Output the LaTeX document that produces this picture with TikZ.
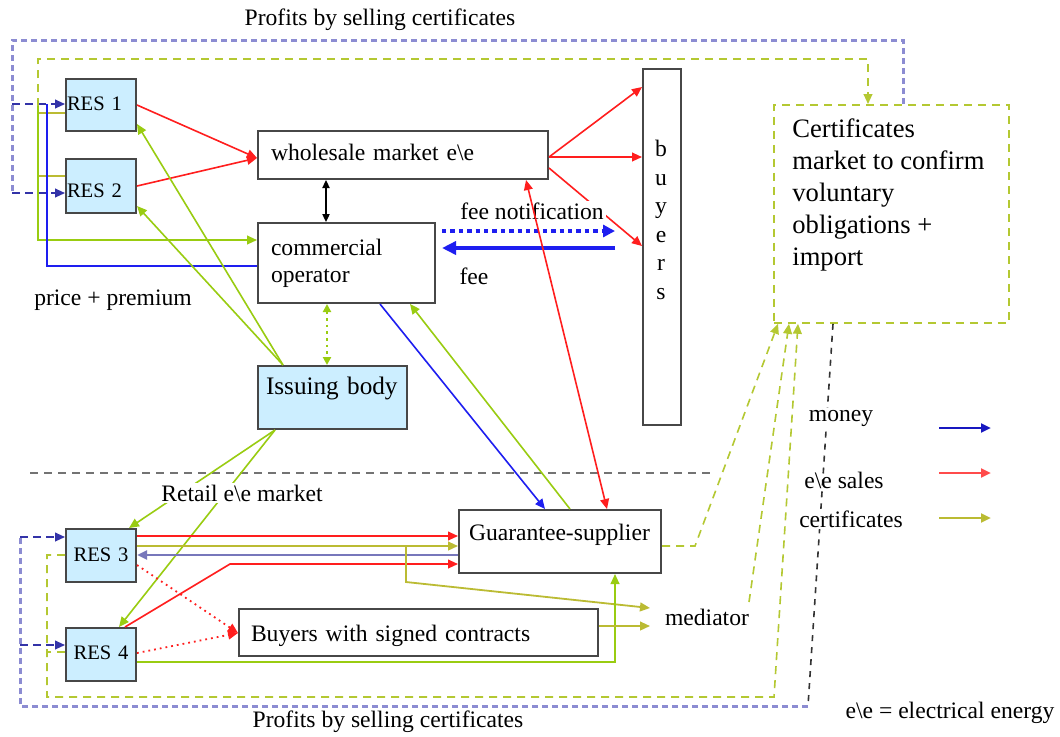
\documentclass[tikz,border=0pt]{standalone}
\usepackage{fontspec}
\setmainfont{Liberation Serif}
\usetikzlibrary{arrows.meta,calc}
\definecolor{cred}{HTML}{FF1E1E}
\definecolor{cblue}{HTML}{1E1EF0}
\definecolor{cgreen}{HTML}{99CC11}
\definecolor{colive}{HTML}{BBBB33}
\definecolor{clav}{HTML}{8C8CD2}
\definecolor{cdblue}{HTML}{3333A8}
\definecolor{cslate}{HTML}{7777BB}
\definecolor{cgdash}{HTML}{B4C832}
\definecolor{resblue}{HTML}{CCEEFF}
\begin{document}
\begin{tikzpicture}[x=0.5pt,y=-0.5pt,
  >={Triangle[length=5pt,width=4.4pt]},
  every node/.style={font=\fontsize{11.8}{14}\selectfont},
  box/.style={draw=black!72, line width=1pt, fill=white, anchor=north west, inner ysep=0pt, align=left},
  resbox/.style={box, fill=resblue, font=\fontsize{10.3}{12}\selectfont, minimum width=35pt, text width=34pt, inner xsep=0.5pt},
  lab/.style={inner sep=1pt},
  wlab/.style={inner sep=1pt, fill=white},
  redl/.style={draw=cred, line width=0.8pt},
  redd/.style={draw=cred, line width=0.9pt, dotted},
  bluel/.style={draw=cblue, line width=0.8pt},
  greenl/.style={draw=cgreen, line width=0.8pt},
  olivel/.style={draw=colive, line width=0.9pt},
  gdash/.style={draw=cgdash, line width=0.8pt, dash pattern=on 4pt off 3pt},
  lavdash/.style={draw=clav, line width=1.5pt, dash pattern=on 3pt off 2pt},
  dbdash/.style={draw=cdblue, line width=0.8pt, dash pattern=on 4pt off 2.5pt},
  kdash/.style={draw=black!80, line width=0.8pt, dash pattern=on 3pt off 3pt}
]
\useasboundingbox[fill=white] (0,0) rectangle (1060,736);

% ---------- nodes ----------
\node[resbox, minimum height=26pt, text height=7pt, text depth=1.5pt] (res1) at (65,78) {RES 1};
\node[resbox, minimum height=27pt, text height=11.6pt, text depth=0pt] (res2) at (65,158) {RES 2};
\node[resbox, minimum height=26.5pt, text height=7pt, text depth=1.5pt, align=center] (res3) at (65,528) {RES 3};
\node[resbox, minimum height=26.5pt, text height=6pt, text depth=1.5pt, align=center] (res4) at (65,627) {RES 4};

\node[box, minimum width=145pt, minimum height=24pt, text width=132pt, inner xsep=6.5pt, text height=9pt, text depth=4pt] (wm) at (257,130) {wholesale market e\textbackslash e};
\node[box, minimum width=88.5pt, minimum height=40pt, text width=75.5pt, inner xsep=6.5pt, font=\fontsize{11.8}{13.5}\selectfont] (co) at (257,222) {commercial\\operator};
\node[box, fill=resblue, minimum width=74.5pt, minimum height=31.5pt, text width=66.5pt, inner xsep=4pt, text height=9pt, text depth=12.5pt, font=\fontsize{12.6}{15}\selectfont] (ib) at (257,365) {Issuing body};
\node[box, minimum width=19pt, minimum height=178pt] (buy) at (642,68) {};
\node[lab, anchor=north, align=center, font=\fontsize{11.8}{14.25}\selectfont] (buytxt) at (661,138) {b\\u\\y\\e\\r\\s};
\node[box, draw=cgdash, line width=0.9pt, dash pattern=on 4pt off 3pt, minimum width=117.5pt, minimum height=109pt] (cm) at (773,104) {};
\node[lab, anchor=north west, inner sep=0pt, align=left, font=\fontsize{13.3}{16}\selectfont] (cmtxt) at (792,118) {Certificates\\market to confirm\\voluntary\\obligations +\\import};
\node[box, minimum width=101pt, minimum height=31.5pt, text width=91pt, inner xsep=5pt, text height=9pt, text depth=10.5pt] (gs) at (458,509) {Guarantee-supplier};
\node[box, minimum width=179.5pt, minimum height=23.5pt, text width=167.5pt, inner xsep=6pt, text height=9pt, text depth=0.5pt] (bsc) at (238,608) {Buyers with signed contracts};

% ---------- plain labels ----------
\node[lab] (ptop) at (380,20) {Profits by selling certificates};
\node[lab] (pbot) at (388,722) {Profits by selling certificates};
\node[lab] (pp) at (113,300) {price + premium};
\node[lab] (fee) at (474,276) {fee};
\node[lab] (med) at (707,617) {mediator};
\node[lab] (eee) at (950,713) {e\textbackslash e = electrical energy};

% ---------- middle separator ----------
\draw[draw=black!55, line width=1.4pt, dash pattern=on 4pt off 3pt] (30,473) -- (712,473);

% ---------- top section ----------
\draw[lavdash] (cm.north -| 903,0) |- (12,40) -- (12,193);
\draw[dbdash,->] (12,193) -- (res2.west |- 0,193);
\draw[dbdash,->] (12,104) -- (res1.west |- 0,104);
\coordinate (g1) at (38,106);
\draw[gdash,->] (g1) |- (868,59) -- (cm.north -| 868,0);
\draw[olivel] (res1.west |- 0,113) -- (38,113);
\draw[olivel] (res2.west |- 0,176) -- (38,176);
\draw[greenl,->] (g1) |- (co.west |- 0,240);
\draw[bluel] (co.west |- 0,266) -| (47,104);

\draw[redl,->] (res1.east |- 0,105) -- (wm.west |- 0,158);
\draw[redl,->] (res2.east |- 0,186) -- (wm.west |- 0,158);
\draw[redl,->] (wm.east |- 0,157) -- (buy.west |- 0,87);
\draw[redl,->] (wm.east |- 0,157) -- (buy.west |- 0,157);
\draw[redl,->] (wm.east |- 0,168) -- (buy.west |- 0,246);
\node[wlab] (fn) at (532,211) {fee notification};

\draw[black, line width=0.8pt, <->, >={Triangle[length=4pt,width=3.6pt]}] (wm.south -| 326,0) -- (co.north -| 326,0);
\draw[cgreen, line width=1.3pt, dotted, <->, >={Triangle[length=4pt,width=4pt]}] (co.south -| 327,0) -- (ib.north -| 327,0);

\draw[cblue, line width=2.2pt, dotted, ->, >={Triangle[length=6pt,width=6pt]}, shorten >=13.5pt, shorten <=3pt] (co.east |- 0,231) -- (buy.west |- 0,231);
\draw[cblue, line width=2.2pt, ->, >={Triangle[length=7pt,width=6.5pt]}, shorten <=13.5pt, shorten >=3pt] (buy.west |- 0,248) -- (co.east |- 0,248);

\draw[greenl,->] (ib.north -| 283,0) -- (res1.east |- 0,124);
\draw[greenl,->] (ib.north -| 283,0) -- (res2.east |- 0,206);
\draw[greenl,->] (ib.south -| 275,0) -- (res3.north -| 129,0);
\draw[greenl,->] (ib.south -| 275,0) -- (res4.north -| 119,0);
\node[wlab] (retail) at (242,493) {Retail e\textbackslash e market};

\draw[bluel,->] (co.south -| 380,0) -- (gs.north -| 545,0);
\draw[greenl,->] (gs.north -| 570,0) -- (co.south -| 410,0);
\draw[redl,<->] (wm.south -| 526,0) -- (gs.north -| 607,0);

% ---------- bottom section ----------
\draw[redl,->] (res3.east |- 0,536) -- (gs.west |- 0,536);
\draw[olivel,->,>={Triangle[length=5pt,width=4.4pt]}] (res3.east |- 0,546) -- (gs.west |- 0,546);
\draw[cslate, line width=1.4pt, ->] (gs.west |- 0,555) -- (res3.east |- 0,555);
\draw[redl,->] (res4.north -| 125,0) -- (230,564) -- (gs.west |- 0,564);
\coordinate (ob) at (406,546);
\coordinate (m1) at (650,608);
\coordinate (m2) at (650,626);
\draw[olivel,->] (ob) -- (406,582) -- (m1);
\draw[redd,->] (res3.east |- 0,565) -- (bsc.west |- 0,633);
\draw[redd,->] (res4.east |- 0,653) -- (bsc.west |- 0,633);
\draw[greenl,->] (res4.east |- 0,662) -| (gs.south -| 615,0);
\draw[olivel,->] (bsc.east |- 0,626) -- (m2);

% ---------- certificates dashed links ----------
\draw[gdash,->] (gs.east |- 0,546) -- (695,546) -- (cm.south -| 778,0);
\coordinate (m3) at (749,602);
\draw[gdash,->] (m3) -- (cm.south -| 789,0);
\draw[gdash,->] (res3.west |- 0,555) -- (47,555) -- (47,697) -- (774,697) -- (cm.south -| 798,0);
\draw[gdash] (res4.west |- 0,652) -- (47,652);

\coordinate (bc) at (808,706);
\draw[kdash] (cm.south -| 833,0) -- (bc);
\draw[lavdash] (bc) -- (20,706) -- (20,537);
\draw[dbdash,->] (20,537) -- (res3.west |- 0,537);
\draw[dbdash,->] (20,645) -- (res4.west |- 0,645);

% ---------- legend ----------
\node[wlab] (lmoney) at (841,418) {money};
\node[lab] (lsales) at (844,480) {e\textbackslash e sales};
\node[wlab] (lcert) at (851,519) {certificates};
\coordinate (a1s) at (939,428); \coordinate (a1e) at (991,428);
\coordinate (a2s) at (939,473); \coordinate (a2e) at (991,473);
\coordinate (a3s) at (939,518); \coordinate (a3e) at (991,518);
\draw[draw=cblue!80!black, line width=1.3pt, ->] (a1s) -- (a1e);
\draw[draw=cred!80, line width=1.3pt, ->] (a2s) -- (a2e);
\draw[draw=colive, line width=1.3pt, ->, >={Triangle[length=5pt,width=4.4pt]}, -{Triangle[length=5pt,width=4.4pt,fill=cgreen]}] (a3s) -- (a3e);
\end{tikzpicture}
\end{document}
